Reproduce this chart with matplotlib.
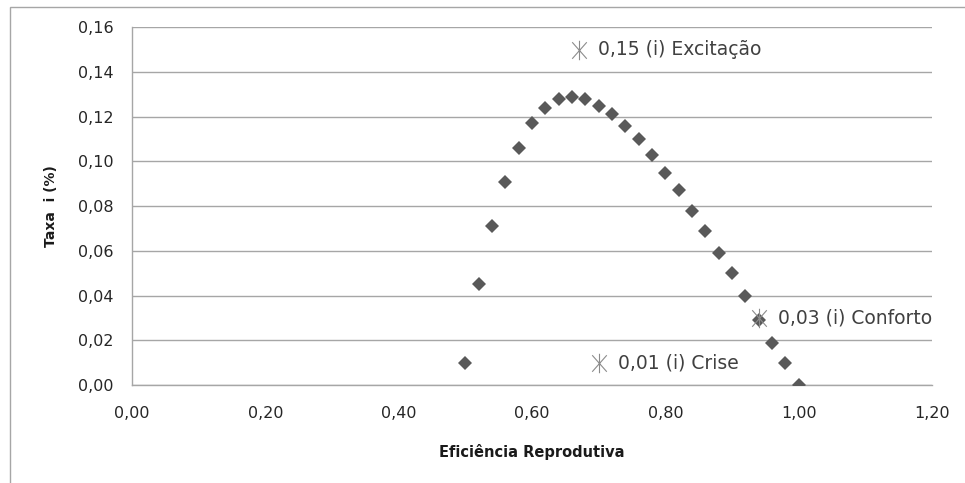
import matplotlib
matplotlib.use("Agg")
import matplotlib.pyplot as plt
from matplotlib.path import Path
from matplotlib.patches import Rectangle
from matplotlib.ticker import FuncFormatter

# eficiencia reprodutiva x taxa i
efic = [0.50, 0.52, 0.54, 0.56, 0.58, 0.60, 0.62, 0.64, 0.66, 0.68,
        0.70, 0.72, 0.74, 0.76, 0.78, 0.80, 0.82, 0.84, 0.86, 0.88,
        0.90, 0.92, 0.94, 0.96, 0.98, 1.00]
taxa = [0.010, 0.045, 0.071, 0.091, 0.106, 0.117, 0.124, 0.128, 0.129, 0.128,
        0.125, 0.121, 0.116, 0.110, 0.103, 0.095, 0.087, 0.078, 0.069, 0.059,
        0.050, 0.040, 0.029, 0.019, 0.010, 0.000]

# pontos de referencia
ref_x = [0.67, 0.70, 0.94]
ref_y = [0.15, 0.01, 0.03]
ref_labels = ["0,15 (i) Excitação", "0,01 (i) Crise", "0,03 (i) Conforto"]

xticks = [0.0, 0.2, 0.4, 0.6, 0.8, 1.0, 1.2]
yticks = [0.0, 0.02, 0.04, 0.06, 0.08, 0.10, 0.12, 0.14, 0.16]

grid_col = "#a6a6a6"
txt_col = "#404040"

fig = plt.figure(figsize=(9.65, 4.83), dpi=100)
ax = fig.add_axes([0.1368, 0.2029, 0.8290, 0.7406])

# moldura externa
fig.patches.append(Rectangle((10 / 965, -0.1), 1.2, 1 - 7.3 / 483 + 0.1,
                             transform=fig.transFigure, fill=False,
                             edgecolor=grid_col, linewidth=1.0))

ax.plot(efic, taxa, linestyle="none", marker="D", markersize=7.6,
        color="#595959", markeredgewidth=0, zorder=3)

# asterisco estilo excel
star = Path([(-0.75, -0.85), (0.75, 0.85), (-0.75, 0.85), (0.75, -0.85), (0, -1), (0, 1)],
            [Path.MOVETO, Path.LINETO, Path.MOVETO, Path.LINETO, Path.MOVETO, Path.LINETO])
ax.plot(ref_x, ref_y, linestyle="none", marker=star, markersize=14,
        markeredgecolor="#8c8c8c", markerfacecolor="none", markeredgewidth=0.8, zorder=4)

for x, y, lab in zip(ref_x, ref_y, ref_labels):
    ax.annotate(lab, (x, y), xytext=(14, 0), textcoords="offset points",
                ha="left", va="center", fontsize=13.5, color=txt_col,
                family="DejaVu Sans", annotation_clip=False)

ax.set_xlim(0, 1.2)
ax.set_ylim(0, 0.16)
ax.set_xticks(xticks)
ax.set_yticks(yticks)
ax.xaxis.set_major_formatter(FuncFormatter(lambda v, p: f"{v:.2f}".replace(".", ",")))
ax.yaxis.set_major_formatter(FuncFormatter(lambda v, p: f"{v:.2f}".replace(".", ",")))
ax.tick_params(length=0, labelsize=11.5, colors="#262626", pad=13.5)
ax.tick_params(axis="x", pad=15)

ax.grid(axis="y", color=grid_col, linewidth=1.0)
ax.set_axisbelow(True)
for s in ["top", "right"]:
    ax.spines[s].set_visible(False)
for s in ["left", "bottom"]:
    ax.spines[s].set_color(grid_col)
    ax.spines[s].set_linewidth(1.0)

ax.set_xlabel("Eficiência Reprodutiva", fontsize=10.5, fontweight="bold", labelpad=17, color="#1a1a1a")
ax.set_ylabel("Taxa  i (%)", fontsize=10, fontweight="bold", labelpad=14, color="#1a1a1a")

fig.savefig("out.png", dpi=100)
